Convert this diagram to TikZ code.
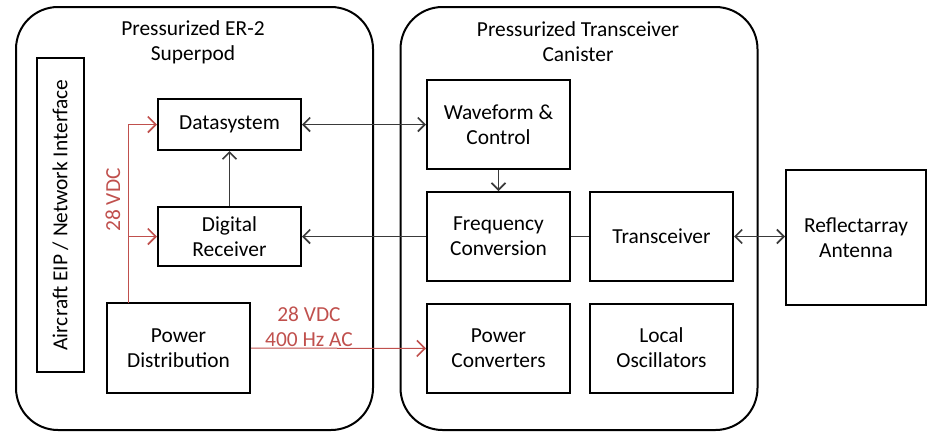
\documentclass[tikz,border=0pt]{standalone}
\usepackage{fontspec}
\setmainfont{Carlito}
\usetikzlibrary{arrows.meta, positioning, calc}
\definecolor{cred}{HTML}{C0504D}
\definecolor{cline}{HTML}{3A3A3A}
\tikzset{
  every picture/.style={font=\fontsize{10.7}{12.5}\selectfont, line width=1pt},
  block/.style={draw=black, align=center, inner sep=2pt, minimum width=71.5pt, minimum height=#1},
  block/.default=44.5pt,
  pod/.style={draw=black, rounded corners=21pt, minimum width=178.5pt, minimum height=211.5pt},
  sig/.style={-{Straight Barb[length=3.5pt, width=7pt, line width=0.8pt]}, draw=cline, line width=0.5pt},
  both/.style={{Straight Barb[length=3.5pt, width=7pt, line width=0.8pt]}-{Straight Barb[length=3.5pt, width=7pt, line width=0.8pt]}, draw=cline, line width=0.5pt},
  link/.style={draw=cline, line width=0.5pt},
  pwr/.style={-{Straight Barb[length=4pt, width=8pt, line width=0.8pt]}, draw=cred, line width=0.5pt},
  volt/.style={text=cred, align=center},
}

\begin{document}
\begin{tikzpicture}[x=0.5pt, y=-0.5pt]
  \useasboundingbox (0,0) rectangle (928,434);
  % enclosures
  \node[pod] (superpod) at (194.5,218.5) {};
  \node[pod] (canister) at (579,218.5) {};
  \node[align=center] (podtitle) at (193,42) {Pressurized ER-2\\Superpod};
  \node[align=center] (cantitle) at (578,42) {Pressurized Transceiver\\Canister};
  % superpod blocks
  \node[draw=black, rotate=90, minimum width=157pt, minimum height=23.5pt] (eip) at (60.5,215) {Aircraft EIP / Network Interface};
  \node[block=25.5pt] (sys) at (229.5,124.5) {Datasystem};
  \node[block=29.5pt] (dr) at (229.5,236.5) {Digital\\Receiver};
  \node[block=45pt] (pd) at (178.5,348) {Power\\Distribution};
  % canister blocks
  \node[block] (wf) at (498.5,124.5) {Waveform \&\\Control};
  \node[block] (fc) at (498.5,236.5) {Frequency\\Conversion};
  \node[block] (tr) at (661.5,236.5) {Transceiver};
  \node[block] (pc) at (498.5,348.5) {Power\\Converters};
  \node[block] (lo) at (661.5,348) {Local\\Oscillators};
  \node[block=67.5pt, minimum width=70pt] (ant) at (856,237.5) {Reflectarray\\Antenna};
  % signal paths
  \draw[both] (sys) -- (wf);
  \draw[sig] (wf) -- (fc);
  \draw[sig] (fc) -- (dr);
  \draw[sig] (dr) -- (sys);
  \draw[link] (fc) -- (tr);
  \draw[both] (tr.east) -- (tr.east -| ant.west);
  % power
  \coordinate (tap) at (128,303);
  \draw[pwr] (tap) |- (sys);
  \draw[pwr] (tap |- dr) -- (dr);
  \draw[pwr] (pd.east) -- (pc.west);
  \node[volt, rotate=90] (vdc) at (113,200) {28 VDC};
  \node[volt] (vac) at (309,327) {28 VDC\\400 Hz AC};
\end{tikzpicture}
\end{document}
